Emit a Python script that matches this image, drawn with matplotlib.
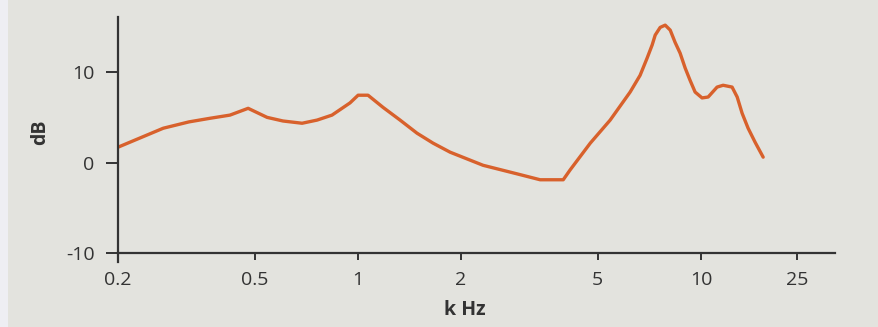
import matplotlib.pyplot as plt
import matplotlib.patches as mpatches

# frequency response (kHz, dB)
freq_khz = [0.2, 0.271, 0.322, 0.371, 0.424, 0.479, 0.544, 0.605, 0.688, 0.761,
            0.841, 0.949, 1.002, 1.071, 1.185, 1.328, 1.488, 1.657, 1.858, 2.318,
            2.914, 3.40, 3.97, 4.16, 4.76, 5.44, 6.22, 6.65, 6.97, 7.21,
            7.36, 7.61, 7.87, 8.14, 8.41, 8.70, 9.00, 9.30, 9.62, 10.08,
            10.50, 11.15, 11.61, 12.33, 12.76, 13.19, 13.73, 14.39, 15.19]
level_db = [1.7, 3.8, 4.5, 4.9, 5.25, 6.0, 5.0, 4.6, 4.35, 4.7,
            5.25, 6.6, 7.45, 7.45, 6.1, 4.7, 3.25, 2.15, 1.15, -0.3,
            -1.25, -1.9, -1.9, -0.8, 2.15, 4.7, 7.8, 9.65, 11.55, 13.0,
            14.1, 14.95, 15.2, 14.65, 13.3, 12.1, 10.45, 9.1, 7.8, 7.15,
            7.25, 8.35, 8.55, 8.35, 7.25, 5.45, 3.8, 2.25, 0.6]

xtick_labels = ["0.2", "0.5", "1", "2", "5", "10", "25"]
xtick_pos = [0.2, 0.5, 1, 2, 5, 10, 19.1]  # "25" sits where the original drew it
yticks = [-10, 0, 10]

plt.rcParams["font.family"] = ["Open Sans", "DejaVu Sans"]
bg = "#e3e3de"
ink = "#333333"

fig = plt.figure(figsize=(8.79, 3.27), dpi=100, facecolor=bg)
fig.patches.append(mpatches.Rectangle((0, 0), 8 / 879, 1, transform=fig.transFigure,
                                      facecolor="#eeeef3", edgecolor="none", zorder=0))
ax = fig.add_axes([118 / 879, 1 - 253 / 327, 717 / 879, 236 / 327])
ax.set_facecolor("none")

ax.plot(freq_khz, level_db, color="#d8612c", lw=2.4,
        solid_capstyle="round", solid_joinstyle="round")

ax.set_xscale("log")
ax.set_xlim(0.2, 24.6)
ax.set_ylim(-10, 16.1)
ax.set_xticks(xtick_pos)
ax.set_xticklabels(xtick_labels)
ax.minorticks_off()
ax.set_yticks(yticks)
ax.set_yticklabels([str(v) for v in yticks])

for side in ["top", "right"]:
    ax.spines[side].set_visible(False)
for side in ["left", "bottom"]:
    ax.spines[side].set_color(ink)
    ax.spines[side].set_linewidth(1.6)
ax.spines["left"].set_bounds(-11, 16.1)

ax.tick_params(axis="y", direction="out", length=9, width=1.4, color=ink,
               labelsize=14, labelcolor=ink, pad=8)
ax.tick_params(axis="x", direction="out", length=5, width=1.4, color=ink,
               labelsize=14, labelcolor=ink, pad=8)

ax.set_xlabel("k Hz", fontsize=14, fontweight="bold", color=ink)
ax.xaxis.set_label_coords(0.484, -0.2)
ax.set_ylabel("dB", fontsize=14, fontweight="bold", color=ink)
ax.yaxis.set_label_coords(-0.095, 0.513)

fig.savefig("out.png", dpi=100, facecolor=bg)
